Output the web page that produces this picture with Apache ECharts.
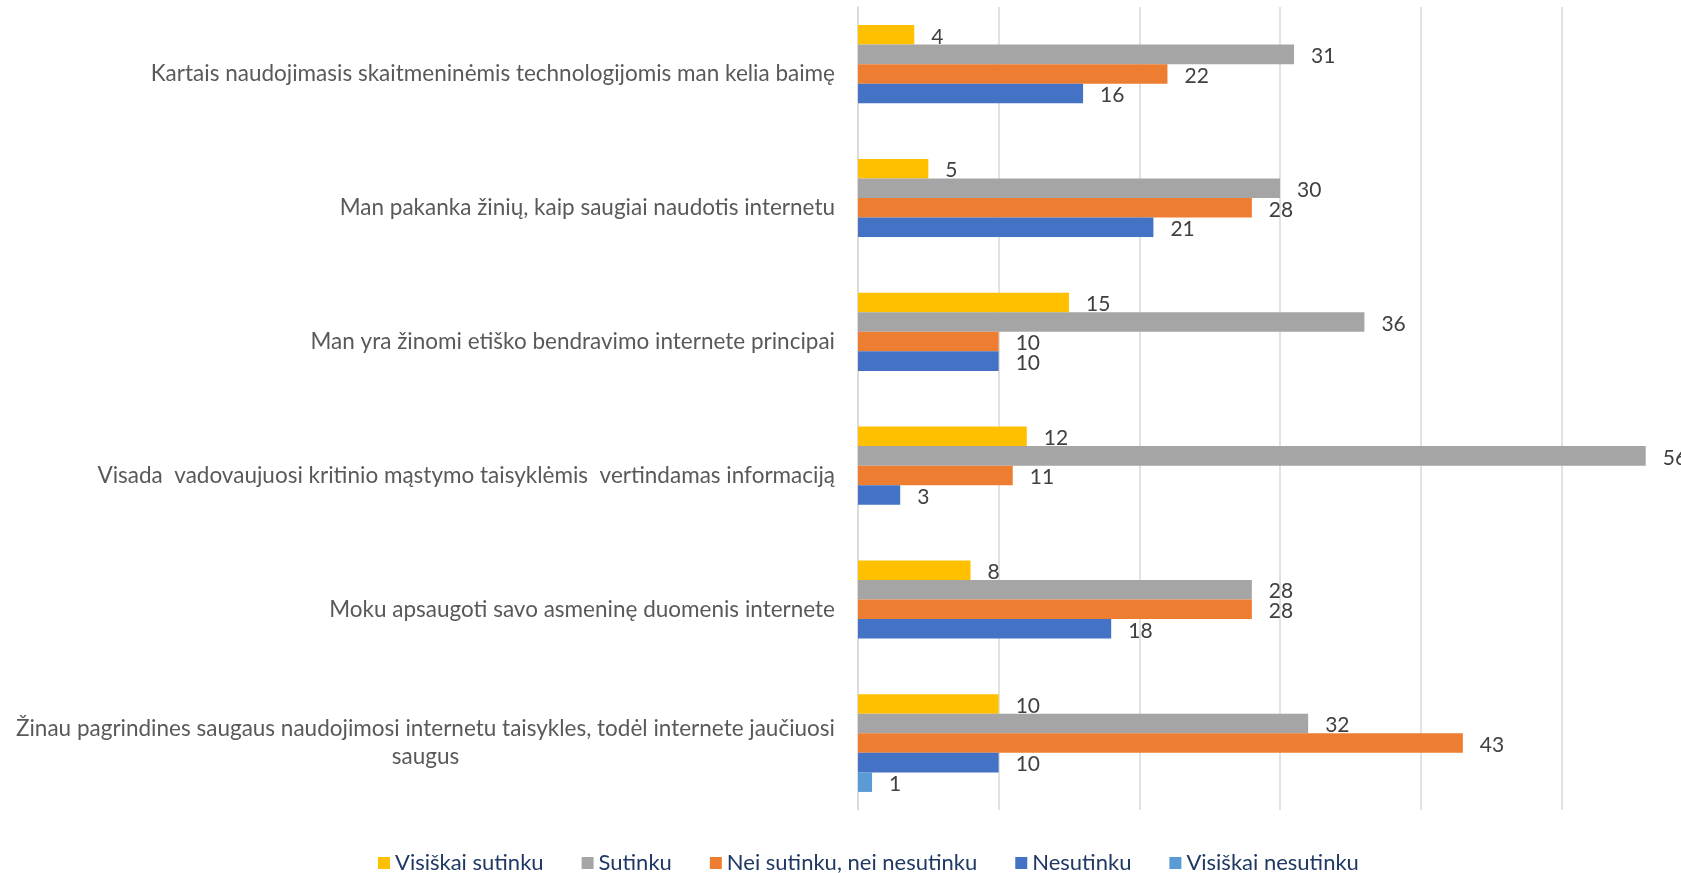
<!DOCTYPE html>
<html>
<head>
<meta charset="utf-8">
<script src="https://cdn.jsdelivr.net/npm/echarts@6/dist/echarts.min.js"></script>
<style>
html,body{margin:0;padding:0;background:#fff;}
#chart{width:1681px;height:873px;}
</style>
</head>
<body>
<div id="chart"></div>
<script>
const categories = [
  'Kartais naudojimasis skaitmeninėmis technologijomis man kelia baimę',
  'Man pakanka žinių, kaip saugiai naudotis internetu',
  'Man yra žinomi etiško bendravimo internete principai',
  'Visada  vadovaujuosi kritinio mąstymo taisyklėmis  vertindamas informaciją',
  'Moku apsaugoti savo asmeninę duomenis internete',
  'Žinau pagrindines saugaus naudojimosi internetu taisykles, todėl internete jaučiuosi\nsaugus'
];
const seriesNames = ['Visiškai sutinku', 'Sutinku', 'Nei sutinku, nei nesutinku', 'Nesutinku', 'Visiškai nesutinku'];
const visiskaiSutinku = [4, 5, 15, 12, 8, 10];
const sutinku = [31, 30, 36, 56, 28, 32];
const neiSutinku = [22, 28, 10, 11, 28, 43];
const nesutinku = [16, 21, 10, 3, 18, 10];
const visiskaiNesutinku = [null, null, null, null, null, 1];
const colors = ['#FFC000', '#A5A5A5', '#ED7D31', '#4472C4', '#5B9BD5'];

const FONT = 'Lato, "Liberation Sans", sans-serif';
const allData = [visiskaiSutinku, sutinku, neiSutinku, nesutinku, visiskaiNesutinku];

const chart = echarts.init(document.getElementById('chart'));
chart.setOption({
  animation: false,
  grid: {left: 858, width: 844, top: 7, bottom: 63, containLabel: false, outerBoundsMode: 'none'},
  legend: {
    data: seriesNames,
    left: 373, top: 847,
    itemWidth: 12, itemHeight: 12, itemGap: 38,
    icon: 'rect',
    textStyle: {color: '#1F3864', fontSize: 22, fontFamily: FONT}
  },
  xAxis: {
    type: 'value', min: 0, max: 60, interval: 10,
    axisLabel: {show: false},
    axisLine: {show: false}, axisTick: {show: false},
    splitLine: {lineStyle: {color: '#D9D9D9', width: 1.5}}
  },
  yAxis: {
    type: 'category', data: categories, inverse: true,
    axisTick: {show: false},
    axisLine: {lineStyle: {color: '#D9D9D9', width: 1.5}},
    axisLabel: {
      margin: 23, color: '#595959', fontSize: 22.5, fontFamily: FONT, lineHeight: 28,
      formatter: v => v.split('\n').map(s => '{c|' + s + '}').join('\n'),
      rich: {c: {align: 'center', color: '#595959', fontSize: 22.5, fontFamily: FONT, lineHeight: 28}}
    }
  },
  series: allData.map((d, i) => ({
    name: seriesNames[i], type: 'bar', data: d,
    barGap: '0%', barCategoryGap: '27%',
    itemStyle: {color: colors[i]},
    label: {show: true, position: 'right', distance: 17, offset: [0, 2], color: '#404040', fontSize: 21, fontFamily: FONT}
  }))
});
</script>
</body>
</html>
